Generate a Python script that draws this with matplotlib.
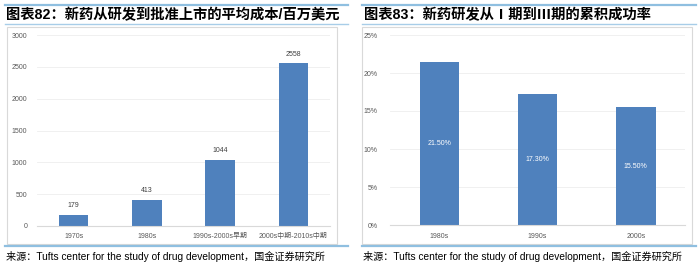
import matplotlib
matplotlib.use("Agg")
import matplotlib.pyplot as plt
from matplotlib.lines import Line2D
from matplotlib.patches import Rectangle

plt.rcParams['font.family'] = ['Liberation Sans', 'Noto Sans CJK SC', 'DejaVu Sans']

# Data
cost_categories = ['1970s', '1980s', '1990s-2000s早期', '2000s中期-2010s中期']
cost_values = [179, 413, 1044, 2558]
cost_yticks = [0, 500, 1000, 1500, 2000, 2500, 3000]

rate_categories = ['1980s', '1990s', '2000s']
rate_values = [21.5, 17.3, 15.5]
rate_yticks = [0, 5, 10, 15, 20, 25]

title_left = '图表82：新药从研发到批准上市的平均成本/百万美元'
title_right = '图表83：新药研发从Ⅰ期到Ⅲ期的累积成功率'
source = '来源：Tufts center for the study of drug development，国金证券研究所'

W, H = 700, 266
BAR = '#4F81BD'
fig = plt.figure(figsize=(W / 100, H / 100), dpi=100)

def fx(px):
    return px / W

def fy(py):
    return 1 - py / H

def hline(x0, x1, y, color, lw):
    fig.add_artist(Line2D([fx(x0), fx(x1)], [fy(y), fy(y)], color=color, lw=lw,
                          transform=fig.transFigure))

def box(x0, y0, x1, y1):
    fig.add_artist(Rectangle((fx(x0), fy(y1)), fx(x1) - fx(x0), fy(y0) - fy(y1),
                             fill=False, edgecolor='#d9d9d9', lw=0.8,
                             transform=fig.transFigure))

def style(ax):
    for s in ['top', 'right', 'left']:
        ax.spines[s].set_visible(False)
    ax.spines['bottom'].set_color('#d9d9d9')
    ax.spines['bottom'].set_linewidth(0.8)
    ax.tick_params(axis='both', length=0, labelsize=5, labelcolor='#595959')
    ax.grid(axis='y', color='#eeeeee', lw=0.6)
    ax.set_axisbelow(True)

# Panels decoration
for (x0, x1, bx0, bx1) in [(5, 348, 7, 337), (362, 696, 362, 692)]:
    hline(x0, x1, 5, '#8fbfe0', 1.6)
    hline(x0, x1, 24, '#a8cde8', 1.0)
    box(bx0, 27, bx1, 244)
    hline(x0, x1, 246, '#8fbfe0', 1.6)

fig.text(fx(6), fy(15), title_left, fontsize=10.3, fontweight='bold', va='center', ha='left')
fig.text(fx(364), fy(15), title_right, fontsize=10.3, fontweight='bold', va='center', ha='left')
fig.text(fx(6), fy(256), source, fontsize=7.3, va='center', ha='left')
fig.text(fx(363), fy(256), source, fontsize=7.3, va='center', ha='left')

# Left chart
ax1 = fig.add_axes([fx(37), fy(226), fx(330) - fx(37), fy(35) - fy(226)])
x1 = list(range(len(cost_categories)))
ax1.bar(x1, cost_values, width=0.4, color=BAR)
ax1.set_xlim(-0.5, len(cost_categories) - 0.5)
ax1.set_ylim(0, 3000)
ax1.set_yticks(cost_yticks)
ax1.set_xticks(x1)
ax1.set_xticklabels(cost_categories, fontsize=4.5)
style(ax1)
ax1.tick_params(axis='y', pad=7)
ax1.tick_params(axis='x', pad=5)
for xi, v in zip(x1, cost_values):
    ax1.annotate(str(v), (xi, v), xytext=(0, 4), textcoords='offset points',
                 ha='center', va='bottom', fontsize=5, color='#404040')

# Right chart
ax2 = fig.add_axes([fx(390), fy(225), fx(685) - fx(390), fy(35) - fy(225)])
x2 = list(range(len(rate_categories)))
ax2.bar(x2, rate_values, width=0.4, color=BAR)
ax2.set_xlim(-0.5, len(rate_categories) - 0.5)
ax2.set_ylim(0, 25)
ax2.set_yticks(rate_yticks)
ax2.set_yticklabels([f'{t}%' for t in rate_yticks])
ax2.set_xticks(x2)
ax2.set_xticklabels(rate_categories, fontsize=5)
style(ax2)
ax2.tick_params(axis='y', pad=9)
ax2.tick_params(axis='x', pad=6)
for xi, v in zip(x2, rate_values):
    ax2.text(xi, v / 2, f'{v:.2f}%', ha='center', va='center', fontsize=5, color='white')

fig.savefig('out.png', dpi=100)
